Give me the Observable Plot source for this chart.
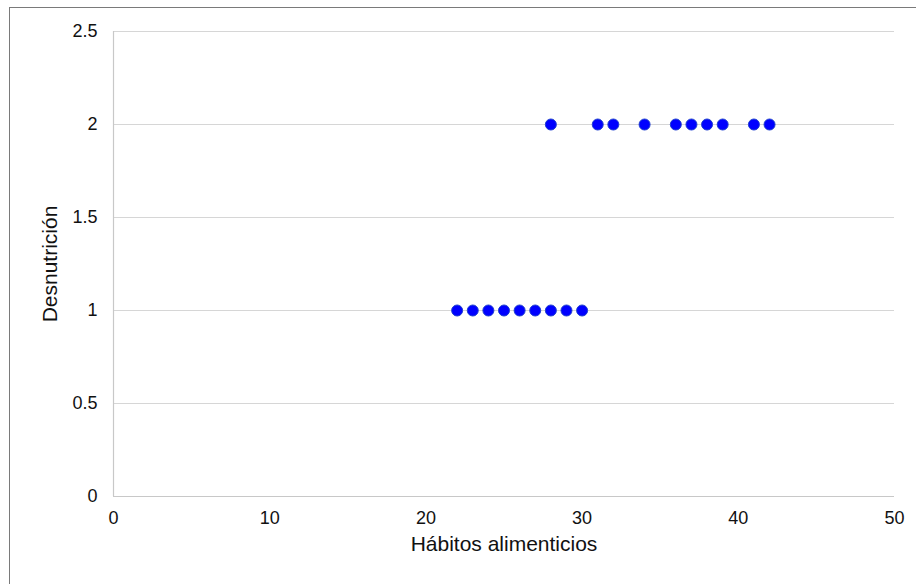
<!DOCTYPE html>
<html>
<head>
<meta charset="utf-8">
<script src="https://cdn.jsdelivr.net/npm/d3@7"></script>
<script src="https://cdn.jsdelivr.net/npm/@observablehq/plot@0.6"></script>
<style>
  html, body { margin: 0; padding: 0; background: #fff; }
  #wrap { position: relative; width: 916px; height: 584px; overflow: hidden; }
  #frame { position: absolute; left: 9px; top: 7px; width: 920px; height: 600px;
           border-left: 1.5px solid #7a7a7a; border-top: 1.5px solid #7a7a7a; box-sizing: border-box; pointer-events: none; }
  #chart { position: absolute; left: 0; top: 0; }
</style>
</head>
<body>
<div id="wrap"><div id="chart"></div><div id="frame"></div></div>
<script>
const habitos1 = [22, 23, 24, 25, 26, 27, 28, 29, 30];
const desnut1 = [1, 1, 1, 1, 1, 1, 1, 1, 1];
const habitos2 = [28, 31, 32, 34, 36, 37, 38, 39, 41, 42];
const desnut2 = [2, 2, 2, 2, 2, 2, 2, 2, 2, 2];
const xTicks = [0, 10, 20, 30, 40, 50];
const yTicks = [0, 0.5, 1, 1.5, 2, 2.5];
const xTitle = "Hábitos alimenticios";
const yTitle = "Desnutrición";

const data = [
  ...habitos1.map((x, i) => ({x, y: desnut1[i]})),
  ...habitos2.map((x, i) => ({x, y: desnut2[i]}))
];

const fmt = d => String(d);

const chart = Plot.plot({
  width: 916,
  height: 584,
  marginLeft: 113,
  marginRight: 22,
  marginTop: 31,
  marginBottom: 88,
  style: { fontFamily: "Liberation Sans, Arial, sans-serif", fontSize: "18px", color: "#111", background: "transparent" },
  x: { domain: [0, 50], label: null },
  y: { domain: [0, 2.5], label: null },
  marks: [
    Plot.gridY(yTicks, { stroke: "#d6d6d6", strokeOpacity: 1, strokeWidth: 1 }),
    Plot.ruleX([0], { stroke: "#c8c8c8", strokeWidth: 1.2 }),
    Plot.ruleY([0], { stroke: "#c8c8c8", strokeWidth: 1.2 }),
    Plot.axisX({ ticks: xTicks, tickFormat: fmt, tickSize: 0, tickPadding: 15, label: null, fontSize: 18, fill: "#111" }),
    Plot.axisY({ ticks: yTicks, tickFormat: fmt, tickSize: 0, tickPadding: 16, label: null, fontSize: 18, fill: "#111" }),
    Plot.text([xTitle], { frameAnchor: "bottom", dy: 54, fontSize: 21, fill: "#111" }),
    Plot.text([yTitle], { frameAnchor: "left", textAnchor: "middle", dx: -63, rotate: -90, fontSize: 21, fill: "#111" }),
    Plot.dot(data, { x: "x", y: "y", r: 5.5, fill: "#0000ff", stroke: "#1f3fd0", strokeWidth: 1 })
  ]
});
document.getElementById("chart").appendChild(chart);
</script>
</body>
</html>
